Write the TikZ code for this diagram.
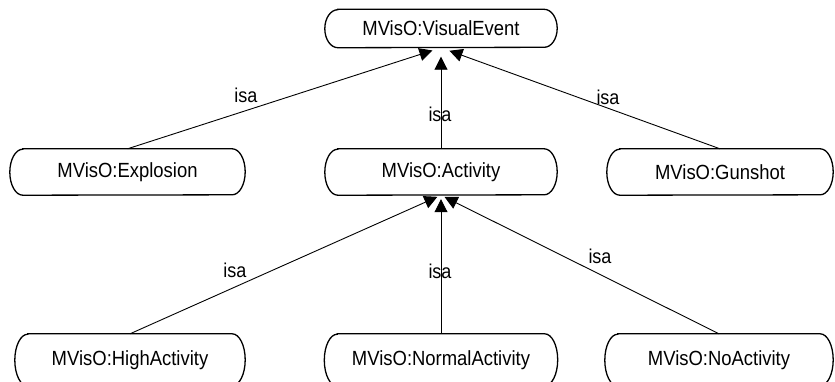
\documentclass[tikz,border=0pt]{standalone}
\usepackage{fontspec}
\setmainfont[FakeStretch=0.9]{Liberation Sans}
\usetikzlibrary{arrows.meta}
% outline of a class node: straight top and bottom, half-elliptic ends
% #1 = node name, #2 = half height of the node
\newcommand\classoutline[2]{%
  \draw[outline]
    ([xshift=13pt]#1.north west) -- ([xshift=-13pt]#1.north east)
    arc[start angle=90, end angle=-90, x radius=13pt, y radius=#2pt]
    -- ([xshift=13pt]#1.south west)
    arc[start angle=270, end angle=90, x radius=13pt, y radius=#2pt]
    -- cycle;}
\begin{document}
\begin{tikzpicture}[x=1pt,y=-1pt,
  concept/.style={rectangle, minimum width=232pt, minimum height=46pt, inner sep=0pt,
    font=\fontsize{20.5}{24}\selectfont},
  outline/.style={line width=1.3pt},
  isa/.style={-{Triangle[length=13pt,width=13pt]}, line width=0.9pt, shorten >=9pt},
  lbl/.style={font=\fontsize{20}{24}\selectfont, inner sep=0pt}]
\useasboundingbox (0,0) rectangle (835,381);
% classes
\node[concept, minimum height=38pt] (ve) at (441,28.5) {MVisO:VisualEvent};
\node[concept, minimum width=235pt] (ex) at (127.5,172) {MVisO:Explosion};
\node[concept] (ac) at (441,172) {MVisO:Activity};
\node[concept, minimum width=226pt] (gs) at (720,172) {MVisO:Gunshot};
\node[concept, minimum height=52pt, minimum width=230pt] (ha) at (130,360) {MVisO:HighActivity};
\node[concept, minimum height=52pt, minimum width=233pt] (na) at (441,360) {MVisO:NormalActivity};
\node[concept, minimum height=52pt, minimum width=228pt] (no) at (719,360) {MVisO:NoActivity};
\classoutline{ve}{19}
\classoutline{ex}{23}
\classoutline{ac}{23}
\classoutline{gs}{23}
\classoutline{ha}{26}
\classoutline{na}{26}
\classoutline{no}{26}
% subclass links
\draw[isa] (ex.north) -- (ve.south);
\draw[isa] (ac.north) -- (ve.south);
\draw[isa] (gs.north) -- (ve.south);
\draw[isa, shorten >=4pt] (ha.north) -- (ac.south);
\draw[isa, shorten >=4pt] (na.north) -- (ac.south);
\draw[isa, shorten >=4pt] (no.north) -- (ac.south);
% link labels
\node[lbl] (l1) at (246,95) {isa};
\node[lbl] (l2) at (440,114) {isa};
\node[lbl] (l3) at (608,97) {isa};
\node[lbl] (l4) at (235,270) {isa};
\node[lbl] (l5) at (440,271) {isa};
\node[lbl] (l6) at (600,256) {isa};
\end{tikzpicture}
\end{document}
